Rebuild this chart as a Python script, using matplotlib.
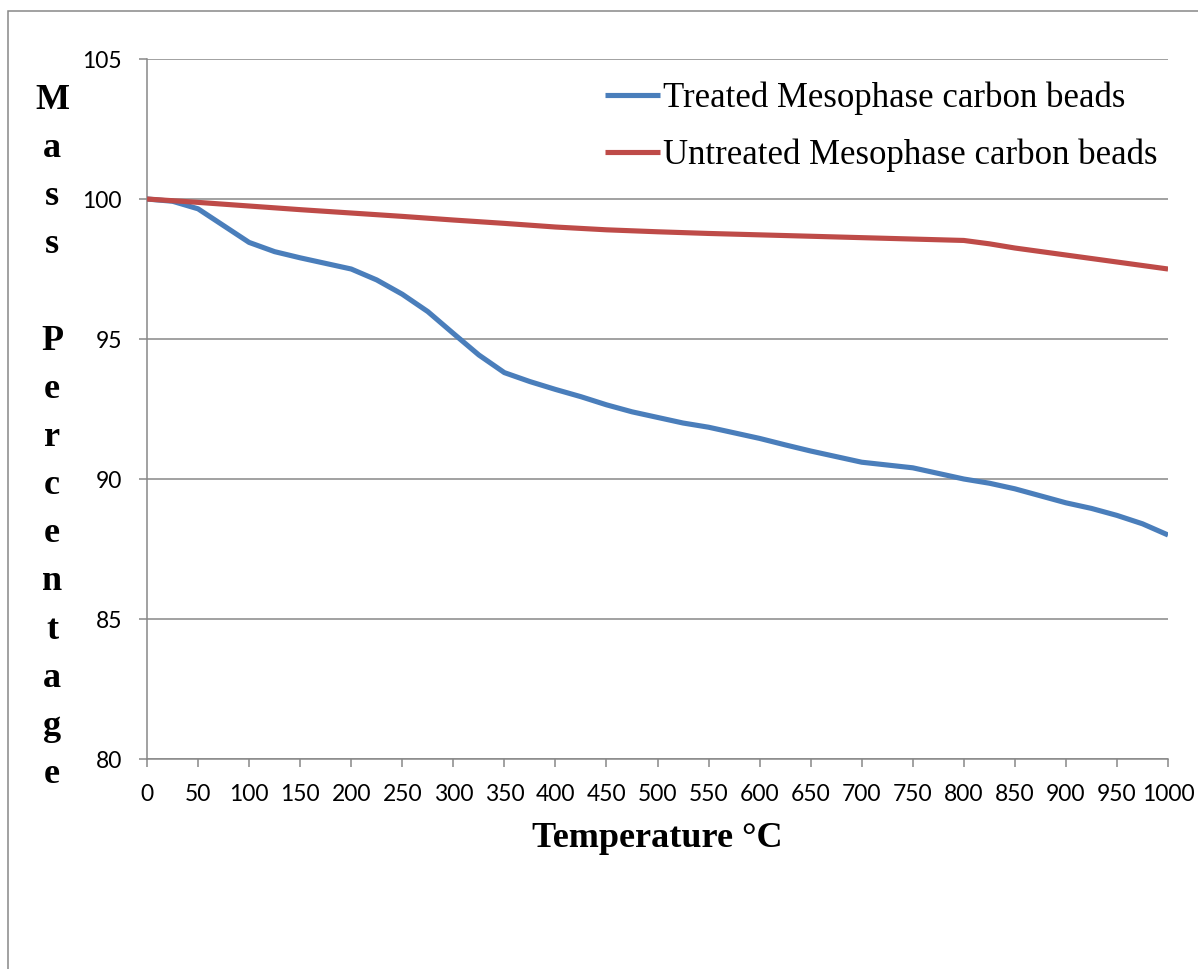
"""Courbes ATG : perte de masse des billes de carbone mésophase (traitées / non traitées)."""

import matplotlib

matplotlib.use("Agg")
import matplotlib.pyplot as plt
from matplotlib.patches import Rectangle

# Données (tous les 25 °C pour la courbe traitée)
temp_traitee = [0, 25, 50, 75, 100, 125, 150, 175, 200, 225, 250, 275, 300, 325,
                350, 375, 400, 425, 450, 475, 500, 525, 550, 575, 600, 625, 650,
                675, 700, 725, 750, 775, 800, 825, 850, 875, 900, 925, 950, 975, 1000]
masse_traitee = [100.0, 99.92, 99.65, 99.05, 98.45, 98.12, 97.9, 97.7, 97.5, 97.11,
                 96.6, 95.98, 95.2, 94.43, 93.8, 93.48, 93.2, 92.94, 92.65, 92.4,
                 92.2, 92.0, 91.85, 91.65, 91.45, 91.22, 91.0, 90.8, 90.6, 90.5,
                 90.4, 90.2, 90.0, 89.85, 89.65, 89.4, 89.15, 88.95, 88.7, 88.4, 88.0]
temp_non_traitee = [0, 50, 100, 150, 200, 250, 300, 350, 400, 450, 500,
                    550, 600, 650, 700, 750, 800, 825, 850, 900, 950, 1000]
masse_non_traitee = [100.0, 99.88, 99.75, 99.62, 99.5, 99.38, 99.25, 99.13, 99.0, 98.9,
                     98.83, 98.77, 98.72, 98.67, 98.62, 98.57, 98.52, 98.4, 98.25,
                     98.0, 97.75, 97.5]
noms_series = ["Treated Mesophase carbon beads", "Untreated Mesophase carbon beads"]
graduations_x = list(range(0, 1001, 50))
graduations_y = [80, 85, 90, 95, 100, 105]

GRIS = "#888888"

fig = plt.figure(figsize=(11.98, 9.69), dpi=100)
ax = fig.add_axes([0.1227, 0.2167, 0.8523, 0.7224])

ax.plot(temp_traitee, masse_traitee, color="#4A7EBB", lw=3.7,
        solid_capstyle="butt", solid_joinstyle="round", label=noms_series[0], zorder=3)
ax.plot(temp_non_traitee, masse_non_traitee, color="#BE4B48", lw=3.7,
        solid_capstyle="butt", solid_joinstyle="round", label=noms_series[1], zorder=3)

ax.set_xlim(0, 1000)
ax.set_ylim(80, 105)
ax.set_xticks(graduations_x)
ax.set_yticks(graduations_y)
ax.grid(axis="y", color=GRIS, lw=1.1)
ax.set_axisbelow(True)

for cote in ("top", "right"):
    ax.spines[cote].set_visible(False)
for cote in ("left", "bottom"):
    ax.spines[cote].set_color(GRIS)
    ax.spines[cote].set_linewidth(1.1)

ax.tick_params(direction="out", length=6, width=1.1, color=GRIS, pad=12,
               labelsize=16.5)
for lab in ax.get_xticklabels() + ax.get_yticklabels():
    lab.set_fontfamily("Lato")

ax.set_xlabel("Temperature °C", fontfamily="Liberation Serif", fontweight="bold",
              fontsize=26, labelpad=12)

# Titre de l'axe Y écrit lettre par lettre, à la verticale
lettres = "Mass Percentage"
y0, pas = 0.8965, 0.0497
for i, c in enumerate(lettres):
    fig.text(0.0435, y0 - i * pas, c, ha="center", va="center",
             fontfamily="Liberation Serif", fontweight="bold", fontsize=26)

leg = ax.legend(loc="upper left", bbox_to_anchor=(0.4486, 0.968), frameon=False,
                prop={"family": "Liberation Serif", "size": 25},
                handlelength=1.57, handletextpad=0.1, labelspacing=0.68,
                borderpad=0, borderaxespad=0)

# Cadre extérieur (coupé à droite et en bas)
fig.add_artist(Rectangle((8 / 1198, -0.1), 2, 0.1 + (969 - 11) / 969,
                         transform=fig.transFigure, fill=False,
                         edgecolor=GRIS, lw=1.1))

fig.savefig("out.png", dpi=100)
